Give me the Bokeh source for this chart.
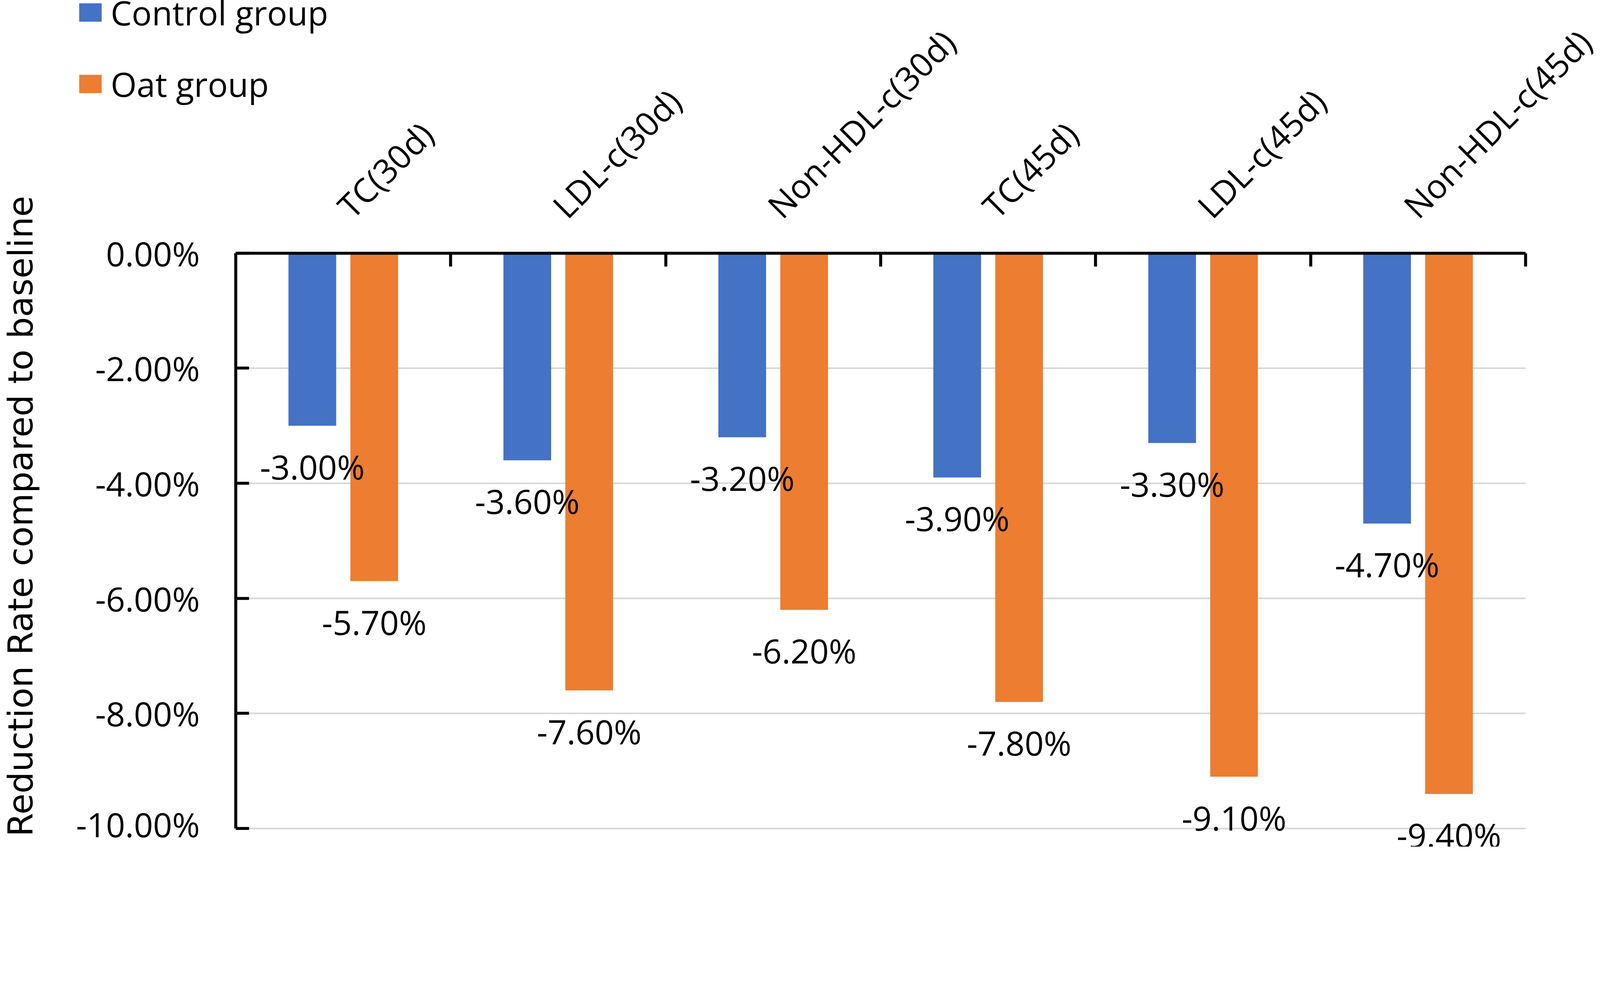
import math
from bokeh.plotting import figure
from bokeh.models import (Range1d, ColumnDataSource, LabelSet, Label, FixedTicker,
                          NumeralTickFormatter, Legend, LegendItem)
from bokeh.core.properties import value
from bokeh.embed import file_html
from bokeh.resources import INLINE

# ---- data ----
categories = ["TC(30d)", "LDL-c(30d)", "Non-HDL-c(30d)", "TC(45d)", "LDL-c(45d)", "Non-HDL-c(45d)"]
series_names = ["Control group", "Oat group"]
control = [-0.030, -0.036, -0.032, -0.039, -0.033, -0.047]
oat = [-0.057, -0.076, -0.062, -0.078, -0.091, -0.094]
y_ticks = [0.0, -0.02, -0.04, -0.06, -0.08, -0.10]
y_title = "Reduction Rate compared to baseline"

# ---- layout / style (screen scale of the capture) ----
S = 7.0 / 6.0                       # device px per CSS px in the capture
def px(r):                          # reference-picture px -> CSS px
    return r / S
def ipx(r):
    return int(round(r / S))

W = int(round(4800 / S)) - 16
H = int(round(2548 / S)) - 16
AX_X, CAT_W, Y0, PCT = 713.0, 642.0, 765.0, 17190.0   # reference geometry
left_r, top_r = 8 * S, 8 * S
right_r, bot_r = left_r + W * S, top_r + H * S

FONT = "Open Sans"
FS = f"{px(100):.1f}px"
BLUE = "#4472C4"
ORANGE = "#ED7D31"
GRID = "#D9D9D9"
OFF = 0.144
BW = 0.222

n = len(categories)
centers = [i + 0.5 for i in range(n)]
src = ColumnDataSource(dict(
    xc=[c - OFF for c in centers],
    xo=[c + OFF for c in centers],
    control=control,
    oat=oat,
    control_lbl=[f"{v * 100:.2f}%" for v in control],
    oat_lbl=[f"{v * 100:.2f}%" for v in oat],
))

p = figure(x_range=Range1d((left_r - AX_X) / CAT_W, (right_r - AX_X) / CAT_W),
           y_range=Range1d(-(bot_r - Y0) / PCT, (Y0 - top_r) / PCT),
           width=W, height=H, output_backend="svg", toolbar_location=None,
           x_axis_location="above", y_axis_location="left",
           min_border=0, min_border_left=0, min_border_right=0,
           min_border_top=0, min_border_bottom=0)
p.outline_line_color = None
p.background_fill_color = "white"
p.border_fill_color = "white"
p.xgrid.visible = False
p.ygrid.visible = False

# gridlines between the category span
grid_y = y_ticks[1:]
p.segment(x0=[0] * len(grid_y), x1=[n] * len(grid_y), y0=grid_y, y1=grid_y,
          line_color=GRID, line_width=px(5), level="underlay")

rc = p.vbar(x="xc", top="control", bottom=0, width=BW, source=src,
            fill_color=BLUE, line_color=None)
ro = p.vbar(x="xo", top="oat", bottom=0, width=BW, source=src,
            fill_color=ORANGE, line_color=None)

for xcol, col, lbl in (("xc", "control", "control_lbl"), ("xo", "oat", "oat_lbl")):
    p.add_layout(LabelSet(x=xcol, y=col, text=lbl, source=src,
                          text_align="center", text_baseline="middle", y_offset=-104,
                          text_font=value(FONT), text_font_size=FS, text_color="black"))

# x axis (categories) fixed at y = 0
xa = p.xaxis[0]
xa.fixed_location = 0
xa.bounds = (0, n)
xa.ticker = FixedTicker(ticks=centers, minor_ticks=[i + 1 for i in range(n)])
xa.major_label_overrides = {c: cat for c, cat in zip(centers, categories)}
xa.major_label_orientation = math.pi / 4
xa.major_tick_line_color = None
xa.minor_tick_in = ipx(40)
xa.minor_tick_out = 0
xa.minor_tick_line_width = px(9)
xa.minor_tick_line_color = "black"
xa.axis_line_width = px(9)
xa.axis_line_color = "black"
xa.major_label_text_font = FONT
xa.major_label_text_font_size = FS
xa.major_label_text_color = "black"
xa.major_label_standoff = ipx(118)

# y axis fixed at x = 0
ya = p.yaxis[0]
ya.fixed_location = 0
ya.bounds = (y_ticks[-1], y_ticks[0])
ya.ticker = FixedTicker(ticks=y_ticks)
ya.formatter = NumeralTickFormatter(format="0.00%")
ya.major_tick_in = ipx(40)
ya.major_tick_out = 0
ya.major_tick_line_width = px(9)
ya.major_tick_line_color = "black"
ya.minor_tick_line_color = None
ya.axis_line_width = px(9)
ya.axis_line_color = "black"
ya.major_label_text_font = FONT
ya.major_label_text_font_size = FS
ya.major_label_text_color = "black"
ya.major_label_standoff = ipx(107)

# y axis title
p.add_layout(Label(x=px(71) - 8, y=-(1551 - Y0) / PCT, x_units="screen", y_units="data",
                   text=y_title, angle=math.pi / 2, text_align="center",
                   text_baseline="alphabetic", text_font="DejaVu Sans",
                   text_font_size=f"{px(102):.1f}px", text_color="black"))

# legend (top-left)
item_h = 130
spacing = int(round(px(214) - item_h))
leg_h = 2 * item_h + spacing
row1 = px(46) - 8
leg_top = row1 - item_h / 2
legend = Legend(items=[LegendItem(label=series_names[0], renderers=[rc]),
                       LegendItem(label=series_names[1], renderers=[ro])],
                location=(px(237) - 8, H - (leg_top + leg_h)), orientation="vertical",
                glyph_width=ipx(84), glyph_height=ipx(69), label_height=item_h,
                label_standoff=ipx(19), spacing=spacing,
                padding=0, margin=0, border_line_color=None, background_fill_alpha=0,
                label_text_font=FONT, label_text_font_size=FS, label_text_color="black")
p.add_layout(legend, "center")

open("out.html", "w").write(file_html(p, INLINE))
